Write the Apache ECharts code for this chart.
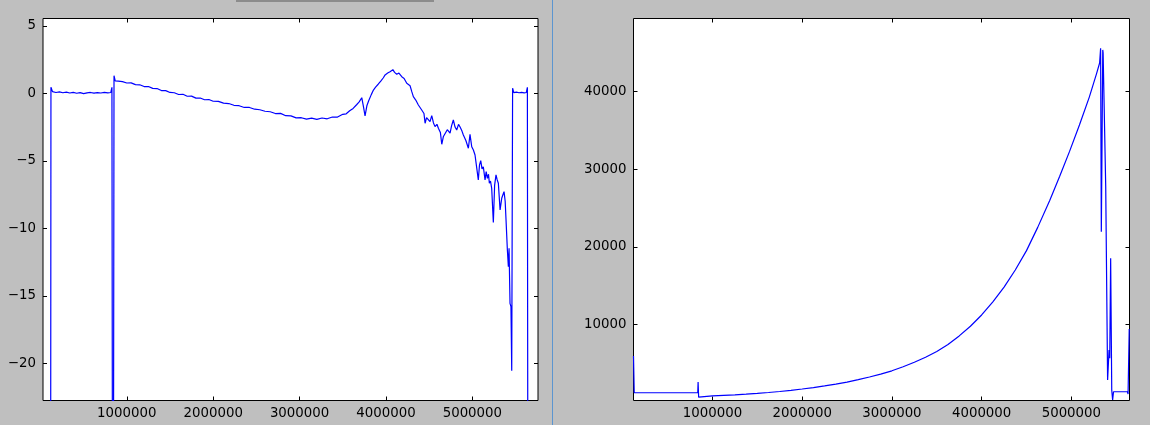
<!DOCTYPE html>
<html>
<head>
<meta charset="utf-8">
<script src="https://cdn.jsdelivr.net/npm/echarts@6/dist/echarts.min.js"></script>
<style>
html,body{margin:0;padding:0;background:#bfbfbf;}
#c{width:1150px;height:425px;}
</style>
</head>
<body>
<div id="c"></div>
<script>
// ---- tick labels ----
const xTicks = [1000000, 2000000, 3000000, 4000000, 5000000];
const leftYTicks = [-20, -15, -10, -5, 0, 5];
const rightYTicks = [10000, 20000, 30000, 40000];

// ---- left panel series ----
const leftX = [
  115000, 122000, 140000, 180000, 220000, 260000, 300000, 340000, 380000, 420000,
  460000, 500000, 540000, 580000, 620000, 660000, 700000, 740000, 780000, 815000,
  828000, 840000,
  852000, 866000, 900000, 950000, 1000000, 1050000, 1100000, 1150000, 1200000, 1250000,
  1300000, 1350000, 1400000, 1450000, 1500000, 1550000, 1600000, 1650000, 1700000, 1750000,
  1800000, 1850000, 1900000, 1950000, 2000000, 2060000, 2120000, 2180000, 2240000, 2300000,
  2360000, 2420000, 2480000, 2540000, 2600000, 2660000, 2720000, 2780000, 2840000, 2900000,
  2960000, 3020000,
  3080000, 3140000, 3200000, 3260000, 3320000, 3380000, 3440000, 3500000, 3540000, 3580000,
  3620000, 3660000, 3690000, 3720000, 3740000, 3758000, 3780000, 3800000, 3830000, 3855000,
  3880000, 3910000, 3940000, 3970000, 3990000, 4020000, 4047000, 4065000, 4080000, 4100000,
  4125000, 4150000, 4183000, 4210000, 4241000, 4260000, 4279000, 4300000, 4317000, 4345000,
  4375000, 4395000, 4414000, 4440000, 4453000, 4470000, 4491000, 4510000, 4530000, 4550000,
  4568000, 4590000, 4607000, 4630000, 4646000, 4665000, 4684000, 4710000, 4742000, 4760000,
  4780000, 4800000, 4819000, 4840000, 4858000, 4880000, 4896000, 4925000, 4954000, 4973000,
  4993000, 5012000, 5031000, 5050000, 5069000, 5083000, 5097000, 5112000, 5127000, 5147000,
  5160000, 5174000, 5187000, 5197000, 5210000, 5224000, 5243000, 5258000, 5274000, 5287000,
  5301000, 5321000, 5340000, 5355000, 5367000, 5380000, 5390000, 5405000, 5417000, 5425000,
  5436000, 5447000, 5456000, 5466000, 5480000, 5510000, 5540000, 5570000, 5600000, 5625000,
  5637000, 5648000
];
const leftY = [
  -60, 0.45, 0.12, 0.06, 0.1, 0.04, 0.08, 0.02, 0.07, 0.0,
  0.05, -0.02, 0.03, 0.06, 0.01, 0.05, 0.02, 0.07, 0.03, 0.06,
  0.44, -60,
  1.3, 0.92, 0.9, 0.86, 0.76, 0.77, 0.64, 0.63, 0.5, 0.5,
  0.36, 0.35, 0.2, 0.2, 0.06, 0.04, -0.09, -0.07, -0.22, -0.21,
  -0.36, -0.35, -0.48, -0.46, -0.59, -0.6, -0.73, -0.76, -0.89, -0.92,
  -1.05, -1.05, -1.18, -1.22, -1.33, -1.37, -1.5, -1.49, -1.66, -1.67,
  -1.82, -1.81,
  -1.92, -1.84, -1.93, -1.83, -1.89, -1.76, -1.76, -1.56, -1.52, -1.3,
  -1.12, -0.85, -0.64, -0.33, -1.0, -1.68, -0.9, -0.55, -0.1, 0.24,
  0.45, 0.67, 0.9, 1.15, 1.36, 1.5, 1.6, 1.62, 1.75, 1.55,
  1.41, 1.5, 1.23, 1.1, 0.74, 0.68, 0.56, 0.1, -0.25, -0.5,
  -0.87, -0.95, -1.24, -1.5, -2.22, -1.8, -1.73, -2.1, -1.66, -2.2,
  -2.47, -2.3, -2.59, -2.9, -3.78, -3.2, -3.09, -2.7, -2.96, -2.4,
  -1.98, -2.5, -2.72, -2.3, -2.5, -2.8, -3.09, -3.5, -4.07, -3.04,
  -3.96, -4.2, -4.57, -4.7, -6.42, -5.3, -4.99, -5.6, -5.44, -6.42,
  -5.8, -6.3, -6.0, -6.67, -6.5, -7.04, -9.58, -6.8, -6.05, -6.4,
  -6.67, -8.64, -7.78, -7.5, -7.29, -8.0, -9.39, -11.56, -12.84, -11.48,
  -15.56, -15.8, -20.55, 0.37, 0.05, 0.08, 0.04, 0.07, 0.03, 0.06,
  0.44, -60
];

// ---- right panel series ----
const rightX = [
  120000, 128000, 400000, 836000, 840000, 846000, 860000, 1000000, 1125000, 1250000,
  1375000, 1500000, 1625000, 1750000, 1875000, 2000000, 2125000, 2250000, 2375000, 2500000,
  2625000, 2750000, 2875000, 3000000, 3125000, 3250000, 3375000, 3500000, 3625000, 3750000,
  3875000, 4000000, 4125000, 4250000, 4375000, 4500000, 4625000, 4760000, 4870000, 4980000,
  5090000, 5200000, 5280000, 5315000, 5326000, 5334000, 5350000, 5354000, 5383000, 5404000,
  5420000, 5428000, 5438000, 5450000, 5460000, 5470000, 5625000, 5632000, 5645000
];
const rightY = [
  5900, 1170, 1170, 1170, 2550, 600, 640, 760, 830, 900,
  985, 1080, 1200, 1330, 1480, 1650, 1840, 2050, 2290, 2550,
  2860, 3200, 3580, 4000, 4520, 5100, 5750, 6500, 7400, 8500,
  9750, 11200, 12900, 14800, 17000, 19500, 22500, 26000, 29100, 32300,
  35700, 39300, 42300, 43700, 45610, 21950, 45390, 45000, 27750, 2810,
  6680, 5610, 18520, 1520, 230, 1300, 1300, 1000, 9400
];

const FONT = 'DejaVu Sans';
const fmt = v => String(v).replace('-', '\u2212');

function xAxisDef(grid, pos, min, max, showLabel) {
  return {
    type: 'value', gridIndex: grid, position: pos, min: min, max: max,
    axisLine: {show: false, onZero: false}, splitLine: {show: false},
    axisTick: {show: true, inside: true, length: 4, customValues: xTicks, lineStyle: {color: '#000', width: 1}},
    axisLabel: {show: showLabel, customValues: xTicks, margin: 7, color: '#000', fontSize: 13.33, fontFamily: FONT, formatter: fmt}
  };
}
function yAxisDef(grid, pos, min, max, ticks, showLabel) {
  return {
    type: 'value', gridIndex: grid, position: pos, min: min, max: max,
    axisLine: {show: false, onZero: false}, splitLine: {show: false},
    axisTick: {show: true, inside: true, length: 4, customValues: ticks, lineStyle: {color: '#000', width: 1}},
    axisLabel: {show: showLabel, customValues: ticks, margin: 7, color: '#000', fontSize: 13.33, fontFamily: FONT, formatter: fmt}
  };
}

const chart = echarts.init(document.getElementById('c'), null, {renderer: 'canvas'});
chart.setOption({
  animation: false,
  backgroundColor: '#bfbfbf',
  grid: [
    {left: 43, top: 18.5, width: 495, height: 382, show: true, backgroundColor: '#ffffff', borderColor: '#000', borderWidth: 1},
    {left: 633.5, top: 18.5, width: 496, height: 382, show: true, backgroundColor: '#ffffff', borderColor: '#000', borderWidth: 1}
  ],
  xAxis: [
    xAxisDef(0, 'bottom', 30000, 5760000, true),
    xAxisDef(0, 'top', 30000, 5760000, false),
    xAxisDef(1, 'bottom', 120000, 5648000, true),
    xAxisDef(1, 'top', 120000, 5648000, false)
  ],
  yAxis: [
    yAxisDef(0, 'left', -22.76, 5.54, leftYTicks, true),
    yAxisDef(0, 'right', -22.76, 5.54, leftYTicks, false),
    yAxisDef(1, 'left', 170, 49440, rightYTicks, true),
    yAxisDef(1, 'right', 170, 49440, rightYTicks, false)
  ],
  series: [
    {
      type: 'line', xAxisIndex: 0, yAxisIndex: 0, showSymbol: false, symbol: 'none', clip: true,
      lineStyle: {color: '#0000ff', width: 1.2}, itemStyle: {color: '#0000ff'},
      data: leftX.map((x, i) => [x, leftY[i]])
    },
    {
      type: 'line', xAxisIndex: 2, yAxisIndex: 2, showSymbol: false, symbol: 'none', clip: true,
      lineStyle: {color: '#0000ff', width: 1.2}, itemStyle: {color: '#0000ff'},
      data: rightX.map((x, i) => [x, rightY[i]])
    }
  ],
  graphic: [
    {type: 'rect', shape: {x: 236, y: 0, width: 198, height: 2}, style: {fill: '#8c8c8c'}},
    {type: 'line', shape: {x1: 552.5, y1: 0, x2: 552.5, y2: 425}, style: {stroke: '#5b95d0', lineWidth: 1}}
  ]
});
</script>
</body>
</html>
